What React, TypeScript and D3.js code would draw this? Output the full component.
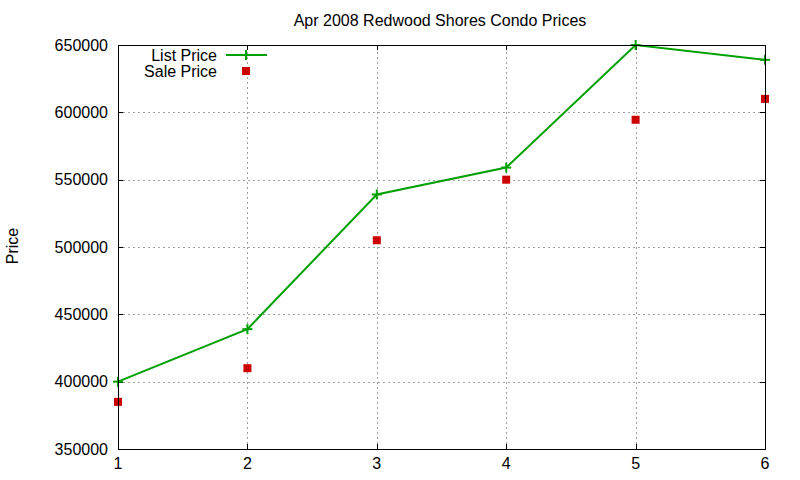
import React from 'react';
import * as d3 from 'd3';

// chart values
const months = [1, 2, 3, 4, 5, 6];
const listPrice = [400000, 439000, 539000, 559000, 650000, 639000];
const salePrice = [385000, 410000, 505000, 550000, 594500, 610000];
const yTicks = [350000, 400000, 450000, 500000, 550000, 600000, 650000];
const xTicks = [1, 2, 3, 4, 5, 6];

const W = 800;
const H = 480;
const margin = { top: 45, right: 35, bottom: 31, left: 118 };
const font = '"Liberation Sans", Arial, sans-serif';
const green = '#00a000';
const red = '#cc0000';
const gridColor = '#a0a0a0';
const tickLen = 5;

export default function App() {
  const x = d3.scaleLinear().domain([1, 6]).range([margin.left, W - margin.right]);
  const y = d3.scaleLinear().domain([350000, 650000]).range([H - margin.bottom, margin.top]);
  const [x0, x1] = x.range();
  const [y0, y1] = y.range();

  const line = d3.line<number>()
    .x((_, i) => x(months[i]))
    .y(d => y(d));

  const plus = (cx: number, cy: number, k: string | number) => (
    <g key={k} stroke={green} strokeWidth={2}>
      <line x1={cx - 5} x2={cx + 5} y1={cy} y2={cy} />
      <line x1={cx} x2={cx} y1={cy - 5} y2={cy + 5} />
    </g>
  );
  const square = (cx: number, cy: number, k: string | number) => (
    <rect key={k} x={cx - 4} y={cy - 4} width={8} height={8} fill={red} />
  );

  return (
    <svg width={W} height={H} style={{ position: 'absolute', left: 0, top: 0, background: '#fff' }}
      fontFamily={font}>
      {/* grid */}
      <g stroke={gridColor} strokeWidth={1} strokeDasharray="2,3">
        {yTicks.slice(1, -1).map(t => (
          <line key={'gy' + t} x1={x0} x2={x1} y1={Math.round(y(t)) + 0.5} y2={Math.round(y(t)) + 0.5} />
        ))}
        {xTicks.slice(1, -1).map(t => (
          <line key={'gx' + t} y1={y0} y2={y1} x1={Math.round(x(t)) + 0.5} x2={Math.round(x(t)) + 0.5} />
        ))}
      </g>

      {/* ticks */}
      <g stroke="#000" strokeWidth={1}>
        {yTicks.map(t => {
          const yy = Math.round(y(t)) + 0.5;
          return (
            <g key={'ty' + t}>
              <line x1={x0} x2={x0 + tickLen} y1={yy} y2={yy} />
              <line x1={x1 - tickLen} x2={x1} y1={yy} y2={yy} />
            </g>
          );
        })}
        {xTicks.map(t => {
          const xx = Math.round(x(t)) + 0.5;
          return (
            <g key={'tx' + t}>
              <line x1={xx} x2={xx} y1={y0} y2={y0 - tickLen} />
              <line x1={xx} x2={xx} y1={y1} y2={y1 + tickLen} />
            </g>
          );
        })}
      </g>

      {/* tick labels */}
      <g fontSize={16} fill="#000">
        {yTicks.map(t => (
          <text key={'ly' + t} x={x0 - 10} y={y(t)} textAnchor="end" dominantBaseline="central">{t}</text>
        ))}
        {xTicks.map(t => (
          <text key={'lx' + t} x={x(t)} y={y0 + 14} textAnchor="middle" dominantBaseline="central">{t}</text>
        ))}
      </g>

      {/* axis title and chart title */}
      <text x={12} y={246} fontSize={16} textAnchor="middle" dominantBaseline="central"
        transform="rotate(-90 12 246)">Price</text>
      <text x={440} y={20} fontSize={16} textAnchor="middle" dominantBaseline="central">
        Apr 2008 Redwood Shores Condo Prices
      </text>

      {/* series */}
      <path d={line(listPrice) || ''} fill="none" stroke={green} strokeWidth={2} />
      {listPrice.map((v, i) => plus(x(months[i]), y(v), 'p' + i))}
      {salePrice.map((v, i) => square(x(months[i]), y(v), 's' + i))}

      {/* legend */}
      <g fontSize={16}>
        <text x={217} y={55} textAnchor="end" dominantBaseline="central">List Price</text>
        <line x1={226} x2={267} y1={55} y2={55} stroke={green} strokeWidth={2} />
        {plus(246, 55, 'lp')}
        <text x={217} y={71} textAnchor="end" dominantBaseline="central">Sale Price</text>
        {square(246, 71, 'ls')}
      </g>

      {/* border */}
      <rect x={x0 + 0.5} y={y1 + 0.5} width={x1 - x0} height={y0 - y1} fill="none" stroke="#000" strokeWidth={1} />
    </svg>
  );
}
